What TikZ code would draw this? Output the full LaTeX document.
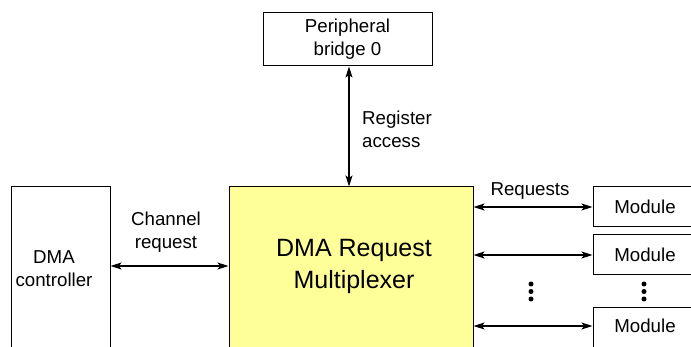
\documentclass[tikz,border=0pt]{standalone}
\usepackage{fontspec}
\setmainfont{Liberation Sans}
\usetikzlibrary{arrows.meta}
\definecolor{muxyellow}{HTML}{FFFF99}
\begin{document}
\begin{tikzpicture}[x=1pt,y=-1pt,
  box/.style={draw=black,line width=1pt,inner sep=0pt},
  lbl/.style={font=\fontsize{18.7}{23}\selectfont,align=center,inner sep=0pt},
  big/.style={font=\fontsize{25}{32}\selectfont,align=center,inner sep=0pt},
  link/.style={line width=1.1pt,{Stealth[length=11pt,width=7pt,inset=2.5pt]}-{Stealth[length=11pt,width=7pt,inset=2.5pt]}},
  dot/.style={circle,fill=black,inner sep=0pt,minimum size=5pt}]
\useasboundingbox (0,0) rectangle (691,347);
\clip (0,0) rectangle (691,347);
% boxes
\node[box,minimum width=169pt,minimum height=53pt] (bridge) at (347.5,39.5) {};
\node[lbl] (bridgetext) at (347.5,39.5) {Peripheral\\bridge 0};
\node[box,fill=muxyellow,minimum width=244pt,minimum height=175pt] (mux) at (351,274.5) {};
\node[big] (muxtext) at (354,266) {DMA Request\\Multiplexer};
\node[box,minimum width=99pt,minimum height=175pt] (dma) at (60.5,274.5) {};
\node[lbl] (dmatext) at (54,269) {DMA\\controller};
\node[box,minimum width=110pt,minimum height=40pt] (mod1) at (648,207) {};
\node[box,minimum width=110pt,minimum height=40pt] (mod2) at (648,255) {};
\node[box,minimum width=110pt,minimum height=40pt] (mod3) at (648,328) {};
\node[lbl] (m1text) at (645,207) {Module};
\node[lbl] (m2text) at (645,255) {Module};
\node[lbl] (m3text) at (645,326) {Module};
% connectors
\coordinate (chan) at (0,266);
\draw[link] (dma.east |- chan) -- (mux.west |- chan);
\node[lbl] (chantext) at (166,232) {Channel\\request};
\coordinate (regx) at (349,0);
\draw[link] (bridge.south -| regx) -- (mux.north -| regx);
\node[lbl,anchor=west,align=left] (regtext) at (362,129.5) {Register\\access};
\draw[link] (mux.east |- mod1.west) -- (mod1.west);
\draw[link] (mux.east |- mod2.west) -- (mod2.west);
\coordinate (r3) at (0,326);
\draw[link] (mux.east |- r3) -- (mod3.west |- r3);
\node[lbl] (reqtext) at (530,191) {Requests};
% ellipsis dots
\node[dot] (d1) at (531,284) {};
\node[dot] (d2) at (531,291.5) {};
\node[dot] (d3) at (531,299) {};
\node[dot] (e1) at (644,284) {};
\node[dot] (e2) at (644,291.5) {};
\node[dot] (e3) at (644,299) {};
\end{tikzpicture}
\end{document}
